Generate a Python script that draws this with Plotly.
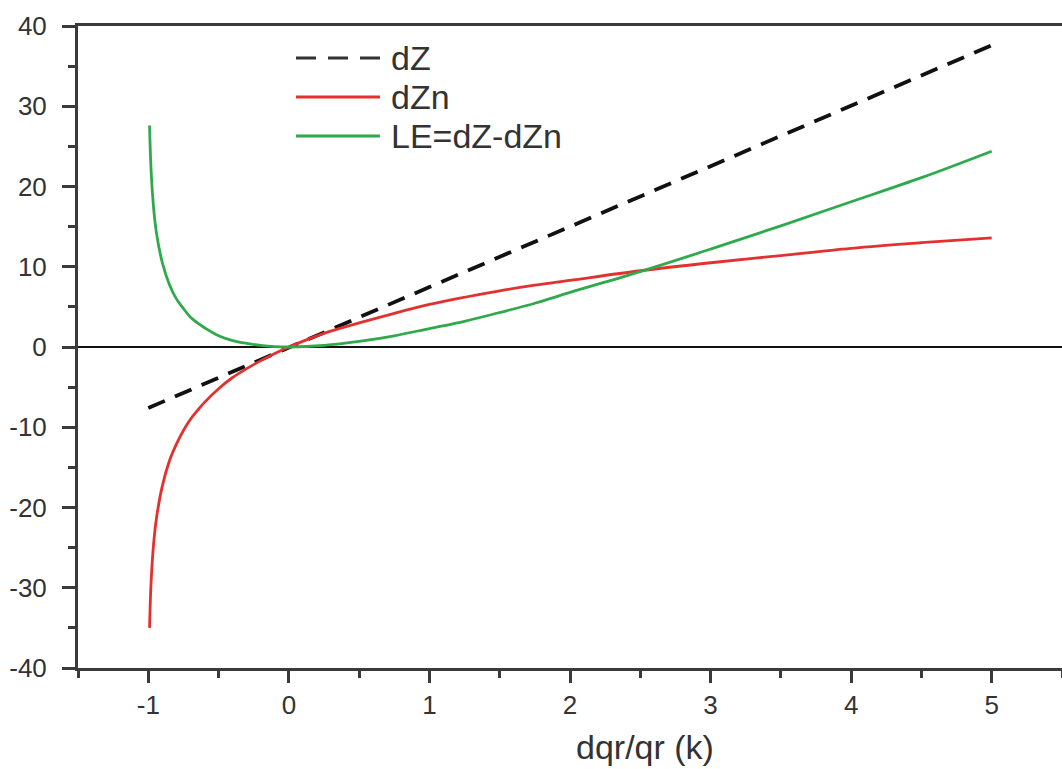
import plotly.graph_objects as go

# ---- data ----
x_dz = [-1.0, 5.0]
y_dz = [-7.6, 37.6]

x_curve = [-0.991, -0.98, -0.96, -0.94, -0.9, -0.85, -0.8, -0.75, -0.7, -0.65,
           -0.6, -0.5, -0.4, -0.3, -0.2, -0.1, 0.0, 0.25, 0.5, 0.75, 1.0,
           1.25, 1.5, 1.75, 2.0, 2.5, 3.0, 3.5, 4.0, 4.5, 5.0]
y_dzn = [-35.0, -29.3, -24.1, -21.1, -17.3, -14.2, -12.1, -10.4, -9.0, -7.9,
         -6.9, -5.2, -3.8, -2.7, -1.7, -0.8, 0.0, 1.7, 3.0, 4.2, 5.3,
         6.2, 7.0, 7.7, 8.3, 9.5, 10.5, 11.4, 12.3, 13.0, 13.6]
y_le = [27.6, 22.0, 16.9, 14.0, 10.5, 7.8, 6.0, 4.8, 3.7, 3.0,
        2.4, 1.4, 0.8, 0.45, 0.2, 0.05, 0.0, 0.2, 0.7, 1.4, 2.3,
        3.2, 4.3, 5.45, 6.8, 9.4, 12.2, 15.1, 18.1, 21.1, 24.4]

legend_names = ["dZ", "dZn", "LE=dZ-dZn"]
x_ticks = [-1, 0, 1, 2, 3, 4, 5]
y_ticks = [-40, -30, -20, -10, 0, 10, 20, 30, 40]
x_title = "dqr/qr (k)"

C_DZ = "#111111"
C_DZN = "#e3312f"
C_LE = "#2eaa4c"
AXC = "#3a3a3a"
FONT = "Arial, Liberation Sans, sans-serif"

fig = go.Figure()
fig.add_trace(go.Scatter(x=x_dz, y=y_dz, mode="lines", name=legend_names[0],
                         line=dict(color=C_DZ, width=3.8, dash="18px,11px"),
                         showlegend=False))
fig.add_trace(go.Scatter(x=x_curve, y=y_dzn, mode="lines", name=legend_names[1],
                         line=dict(color=C_DZN, width=2.8, shape="spline", smoothing=1.0),
                         showlegend=False))
fig.add_trace(go.Scatter(x=x_curve, y=y_le, mode="lines", name=legend_names[2],
                         line=dict(color=C_LE, width=2.8, shape="spline", smoothing=1.0),
                         showlegend=False))

W, H = 1062, 769
ML, MR, MT, MB = 78, 0, 26, 101
PW, PH = W - ML - MR, H - MT - MB

def px_x(p):
    return (p - ML) / PW

def px_y(p):
    return (H - MB - p) / PH

# manual legend
rows = [58, 97, 136]
styles = [dict(color="#333333", width=3, dash="20px,12px"),
          dict(color=C_DZN, width=3),
          dict(color=C_LE, width=3)]
for r, st, name in zip(rows, styles, legend_names):
    fig.add_shape(type="line", xref="paper", yref="paper",
                  x0=px_x(296), x1=px_x(380), y0=px_y(r), y1=px_y(r), line=st)
    fig.add_annotation(xref="paper", yref="paper", x=px_x(389), y=px_y(r),
                       xanchor="left", yanchor="middle", text=name, showarrow=False,
                       font=dict(family=FONT, size=34, color="#333333"))

fig.add_annotation(xref="paper", yref="paper", x=px_x(645), y=px_y(747),
                   xanchor="center", yanchor="middle", text=x_title, showarrow=False,
                   font=dict(family=FONT, size=34, color="#333333"))

fig.update_layout(
    width=W, height=H,
    margin=dict(l=ML, r=MR, t=MT, b=MB, pad=0),
    paper_bgcolor="white", plot_bgcolor="white",
    font=dict(family=FONT, color="#333333"),
)
fig.update_xaxes(range=[-1.5, 5.5], tickvals=x_ticks, ticktext=[str(v) for v in x_ticks],
                 showgrid=False, zeroline=False, showline=True, linecolor=AXC, linewidth=3,
                 mirror=True, ticks="outside", ticklen=12, tickwidth=2.5, tickcolor=AXC,
                 minor=dict(dtick=0.5, ticks="outside", ticklen=7, tickwidth=2.5, tickcolor=AXC),
                 tickfont=dict(family=FONT, size=26, color="#333333"), ticklabelstandoff=0)
fig.update_yaxes(range=[-40, 40], tickvals=y_ticks, ticktext=[str(v) for v in y_ticks],
                 showgrid=False, zeroline=True, zerolinecolor="#111111", zerolinewidth=2,
                 showline=True, linecolor=AXC, linewidth=3, mirror=False,
                 ticks="outside", ticklen=13, tickwidth=2.5, tickcolor=AXC,
                 minor=dict(dtick=5, ticks="outside", ticklen=7, tickwidth=2.5, tickcolor=AXC),
                 tickfont=dict(family=FONT, size=26, color="#333333"), ticklabelstandoff=10)

fig.write_html("out.html", config={"displayModeBar": False},
               post_script="document.body.style.margin='0px';document.body.style.overflow='hidden';")
